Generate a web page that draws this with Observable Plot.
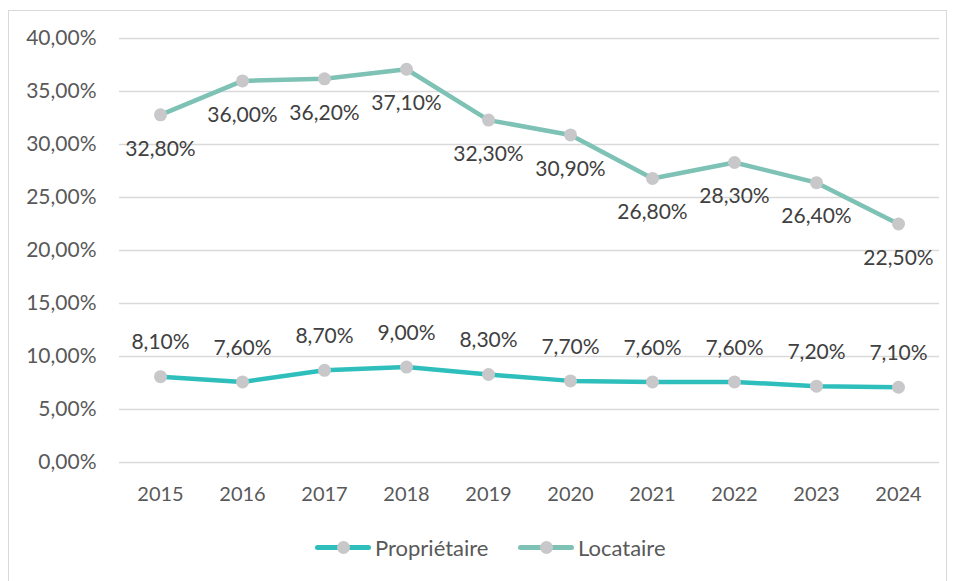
<!DOCTYPE html>
<html><head><meta charset="utf-8">
<script src="https://cdn.jsdelivr.net/npm/d3@7"></script>
<script src="https://cdn.jsdelivr.net/npm/@observablehq/plot@0.6"></script>
<style>
body{margin:0;background:#fff;font-family:Lato,"Open Sans",sans-serif;}
#frame{position:absolute;left:8px;top:10px;width:939px;height:600px;border:1px solid #d9d9d9;box-sizing:border-box;}
#chart{position:absolute;left:0;top:0;}
#legend{position:absolute;left:0;top:532px;width:955px;height:30px;}
.lg{position:absolute;top:0;display:flex;align-items:center;height:30px;font-size:22px;color:#595959;}
.sw{position:relative;width:56px;height:30px;margin-right:4px;}
.sw .ln{position:absolute;left:0;right:0;top:13px;height:5px;border-radius:3px;}
.sw .dt{position:absolute;left:22px;top:9px;width:13px;height:13px;border-radius:50%;background:#c8c8ca;}
</style></head>
<body>
<div id="frame"></div>
<div id="chart"></div>
<div id="legend"></div>
<script>
const years = ["2015","2016","2017","2018","2019","2020","2021","2022","2023","2024"];
const proprietaire = [8.1,7.6,8.7,9.0,8.3,7.7,7.6,7.6,7.2,7.1];
const locataire = [32.8,36.0,36.2,37.1,32.3,30.9,26.8,28.3,26.4,22.5];
const yTicks = [0,5,10,15,20,25,30,35,40];
const seriesNames = ["Propriétaire","Locataire"];
const colors = {"Propriétaire":"#2ebfbd","Locataire":"#7dc2b5"};

const fmt = v => v.toFixed(2).replace(".", ",") + "%";
const rows = [];
years.forEach((y,i)=>{
  rows.push({year:y, value:proprietaire[i], series:"Propriétaire"});
  rows.push({year:y, value:locataire[i], series:"Locataire"});
});
const prop = rows.filter(d=>d.series==="Propriétaire");
const loc = rows.filter(d=>d.series==="Locataire");

const plot = Plot.plot({
  width:955, height:510,
  marginLeft:119, marginRight:16, marginTop:38, marginBottom:48,
  style:{fontFamily:"Lato, 'Open Sans', sans-serif", fontSize:"20px", color:"#595959", background:"transparent"},
  x:{type:"point", domain:years, padding:0.5, label:null},
  y:{domain:[0,40], label:null},
  marks:[
    Plot.gridY(yTicks, {stroke:"#d9d9d9", strokeOpacity:1, strokeWidth:1.5}),
    Plot.axisY(yTicks, {tickSize:0, tickPadding:23, tickFormat:fmt, fill:"#595959", fontSize:21}),
    Plot.axisX({tickSize:0, tickPadding:24, fill:"#595959", fontSize:20}),
    Plot.line(loc, {x:"year", y:"value", stroke:colors["Locataire"], strokeWidth:4.5}),
    Plot.line(prop, {x:"year", y:"value", stroke:colors["Propriétaire"], strokeWidth:4.5}),
    Plot.dot(rows, {x:"year", y:"value", r:6.5, fill:"#c8c8ca", stroke:null}),
    Plot.text(loc, {x:"year", y:"value", text:d=>fmt(d.value), dy:34, fill:"#404040", fontSize:21}),
    Plot.text(prop, {x:"year", y:"value", text:d=>fmt(d.value), dy:-34, fill:"#404040", fontSize:21})
  ]
});
document.getElementById("chart").appendChild(plot);

const legend = document.getElementById("legend");
const lpos = {"Propriétaire":315, "Locataire":518};
seriesNames.forEach(n=>{
  const el = document.createElement("div");
  el.className="lg"; el.style.left = lpos[n]+"px";
  el.innerHTML = `<div class="sw"><div class="ln" style="background:${colors[n]}"></div><div class="dt"></div></div><span>${n}</span>`;
  legend.appendChild(el);
});
</script>
</body></html>
